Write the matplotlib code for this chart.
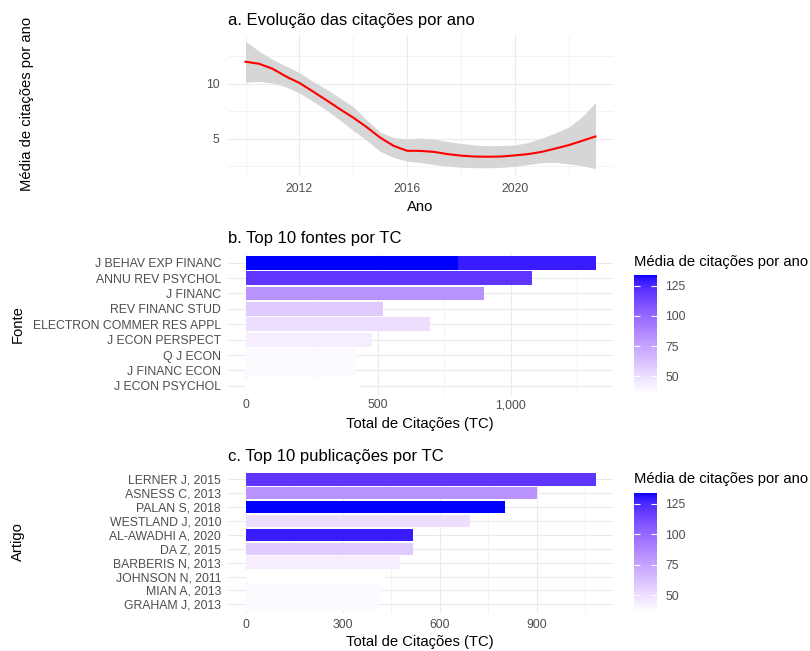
import numpy as np
import matplotlib
matplotlib.use('Agg')
import matplotlib.pyplot as plt
from matplotlib.colors import ListedColormap, Normalize
from matplotlib.cm import ScalarMappable

plt.rcParams['font.family'] = ['Liberation Sans', 'DejaVu Sans']

# a. curva suavizada (loess) da média de citações por ano, com intervalo de confiança
anos = [2010.0, 2010.5, 2011.0, 2011.5, 2012.0, 2012.5, 2013.0, 2013.5, 2014.0,
        2014.5, 2015.0, 2015.5, 2016.0, 2016.5, 2017.0, 2017.5, 2018.0, 2018.5,
        2019.0, 2019.5, 2020.0, 2020.5, 2021.0, 2021.5, 2022.0, 2022.5, 2023.0]
media_suave = [11.98, 11.80, 11.35, 10.65, 10.06, 9.29, 8.50, 7.69, 6.91,
               6.05, 5.10, 4.35, 3.90, 3.89, 3.80, 3.60, 3.46, 3.38,
               3.36, 3.38, 3.48, 3.60, 3.80, 4.10, 4.41, 4.80, 5.20]
banda_sup = [13.83, 12.95, 12.20, 11.60, 11.00, 10.20, 9.50, 8.70, 7.90,
             6.70, 5.60, 5.10, 4.97, 5.06, 4.95, 4.75, 4.57, 4.42,
             4.36, 4.38, 4.42, 4.65, 5.05, 5.50, 6.05, 6.98, 8.27]
banda_inf = [10.12, 10.20, 10.05, 9.70, 9.14, 8.40, 7.60, 6.70, 5.74,
             4.85, 3.85, 3.30, 2.96, 2.82, 2.65, 2.50, 2.41, 2.37,
             2.35, 2.40, 2.50, 2.65, 2.82, 2.85, 2.72, 2.55, 2.28]

# c. top 10 publicações (TC, média de citações por ano e fonte de cada uma)
artigos = ['LERNER J, 2015', 'ASNESS C, 2013', 'PALAN S, 2018', 'WESTLAND J, 2010',
           'AL-AWADHI A, 2020', 'DA Z, 2015', 'BARBERIS N, 2013', 'JOHNSON N, 2011',
           'MIAN A, 2013', 'GRAHAM J, 2013']
artigos_tc = [1082, 900, 801, 695, 519, 519, 477, 430, 420, 414]
artigos_media = [120, 82, 134, 50, 129, 58, 43, 36, 38, 37.6]
artigos_fonte = ['ANNU REV PSYCHOL', 'J FINANC', 'J BEHAV EXP FINANC',
                 'ELECTRON COMMER RES APPL', 'J BEHAV EXP FINANC', 'REV FINANC STUD',
                 'J ECON PERSPECT', 'J ECON PSYCHOL', 'Q J ECON', 'J FINANC ECON']

# b. fontes, na ordem do gráfico
fontes = ['J BEHAV EXP FINANC', 'ANNU REV PSYCHOL', 'J FINANC', 'REV FINANC STUD',
          'ELECTRON COMMER RES APPL', 'J ECON PERSPECT', 'Q J ECON', 'J FINANC ECON',
          'J ECON PSYCHOL']

# gradiente branco -> azul interpolado em CIELAB (como no ggplot)
M = np.array([[0.4124564, 0.3575761, 0.1804375],
              [0.2126729, 0.7151522, 0.0721750],
              [0.0193339, 0.1191920, 0.9503041]])
WHITE_REF = np.array([0.95047, 1.0, 1.08883])


def rgb_to_lab(rgb):
    c = np.asarray(rgb, float)
    lin = np.where(c <= 0.04045, c / 12.92, ((c + 0.055) / 1.055) ** 2.4)
    xyz = lin @ M.T / WHITE_REF
    f = np.where(xyz > (6 / 29) ** 3, np.cbrt(xyz), xyz / (3 * (6 / 29) ** 2) + 4 / 29)
    return np.stack([116 * f[..., 1] - 16, 500 * (f[..., 0] - f[..., 1]),
                     200 * (f[..., 1] - f[..., 2])], -1)


def lab_to_rgb(lab):
    fy = (lab[..., 0] + 16) / 116
    f = np.stack([fy + lab[..., 1] / 500, fy, fy - lab[..., 2] / 200], -1)
    xyz = np.where(f > 6 / 29, f ** 3, 3 * (6 / 29) ** 2 * (f - 4 / 29)) * WHITE_REF
    lin = np.clip(xyz @ np.linalg.inv(M).T, 0, 1)
    return np.clip(np.where(lin <= 0.0031308, 12.92 * lin, 1.055 * lin ** (1 / 2.4) - 0.055), 0, 1)


t = np.linspace(0, 1, 256)[:, None]
lab = (1 - t) * rgb_to_lab([1, 1, 1]) + t * rgb_to_lab([0, 0, 1])
cmap = ListedColormap(lab_to_rgb(lab))
norm = Normalize(min(artigos_media), max(artigos_media))

W, H = 810, 651


def box(left, top, right, bottom):
    return [left / W, 1 - bottom / H, (right - left) / W, (bottom - top) / H]


def estilo(ax, xpad):
    for s in ax.spines.values():
        s.set_visible(False)
    ax.tick_params(which='both', length=0)
    ax.tick_params(axis='x', pad=xpad, labelsize=8.8, labelcolor='#4D4D4D')
    ax.tick_params(axis='y', pad=5, labelsize=8.8, labelcolor='#4D4D4D')
    ax.grid(which='major', color='#EBEBEB', lw=0.8)
    ax.grid(which='minor', color='#EBEBEB', lw=0.4)
    ax.set_axisbelow(True)


def legenda(top, bottom, titulo_y):
    fig.text(634 / W, 1 - titulo_y / H, 'Média de citações por ano', fontsize=10.6,
             va='center', ha='left')
    cax = fig.add_axes(box(634, top, 657, bottom))
    cb = fig.colorbar(ScalarMappable(norm, cmap), cax=cax)
    cb.set_ticks([50, 75, 100, 125])
    cb.outline.set_visible(False)
    cax.tick_params(direction='in', length=4.5, width=0.8, color='white', left=True,
                    right=True, labelsize=8.8, labelcolor='#4D4D4D', pad=6)


fig = plt.figure(figsize=(W / 100, H / 100), dpi=100)

# a. Evolução das citações por ano
ax_a = fig.add_axes(box(228, 35, 613, 175))
ax_a.fill_between(anos, banda_inf, banda_sup, color='#D6D6D6', lw=0, zorder=2)
ax_a.plot(anos, media_suave, color='red', lw=1.5, zorder=3)
ax_a.set_xticks([2012, 2016, 2020])
ax_a.set_xticks([2010, 2014, 2018, 2022], minor=True)
ax_a.set_yticks([5, 10])
ax_a.set_yticks([2.5, 7.5, 12.5], minor=True)
ax_a.margins(0.05)
estilo(ax_a, 6)
ax_a.tick_params(axis='y', pad=6)
fig.text(228 / W, 1 - 20 / H, 'a. Evolução das citações por ano', fontsize=12, va='center')
fig.text(420 / W, 1 - 207 / H, 'Ano', fontsize=10.6, ha='center', va='center')
fig.text(27 / W, 1 - 104 / H, 'Média de citações por ano', fontsize=10.6, rotation=90,
         ha='center', va='center')

# b. Top 10 fontes por TC (barras empilhadas por artigo)
ax_b = fig.add_axes(box(228, 253.5, 613, 395))
totais = []
for i, fonte in enumerate(fontes):
    base = 0
    for tc, media, f in zip(artigos_tc, artigos_media, artigos_fonte):
        if f == fonte:
            ax_b.barh(i, tc, left=base, height=0.9, color=cmap(norm(media)), lw=0)
            base += tc
    totais.append(base)
ax_b.set_xlim(-0.05 * max(totais), 1.05 * max(totais))
ax_b.set_ylim(len(fontes) - 0.4, -0.6)
ax_b.set_yticks(range(len(fontes)))
ax_b.set_yticklabels(fontes)
ax_b.set_xticks([0, 500, 1000])
ax_b.set_xticklabels(['0', '500', '1,000'])
ax_b.set_xticks([250, 750, 1250], minor=True)
estilo(ax_b, 3)
fig.text(228 / W, 1 - 238 / H, 'b. Top 10 fontes por TC', fontsize=12, va='center')
fig.text(420 / W, 1 - 424 / H, 'Total de Citações (TC)', fontsize=10.6, ha='center', va='center')
fig.text(18 / W, 1 - 324 / H, 'Fonte', fontsize=10.6, rotation=90, ha='center', va='center')
legenda(275, 393, 262)

# c. Top 10 publicações por TC
ax_c = fig.add_axes(box(228, 471, 613, 612.7))
ax_c.barh(range(len(artigos)), artigos_tc, height=0.9,
          color=[cmap(norm(m)) for m in artigos_media], lw=0)
ax_c.set_xlim(-0.05 * max(artigos_tc), 1.05 * max(artigos_tc))
ax_c.set_ylim(len(artigos) - 0.4, -0.6)
ax_c.set_yticks(range(len(artigos)))
ax_c.set_yticklabels(artigos)
ax_c.set_xticks([0, 300, 600, 900])
ax_c.set_xticks([150, 450, 750, 1050], minor=True)
estilo(ax_c, 4.5)
fig.text(228 / W, 1 - 456.5 / H, 'c. Top 10 publicações por TC', fontsize=12, va='center')
fig.text(420 / W, 1 - 642 / H, 'Total de Citações (TC)', fontsize=10.6, ha='center', va='center')
fig.text(18 / W, 1 - 542 / H, 'Artigo', fontsize=10.6, rotation=90, ha='center', va='center')
legenda(493, 612, 479)

fig.savefig('out.png', dpi=100, facecolor='white')
